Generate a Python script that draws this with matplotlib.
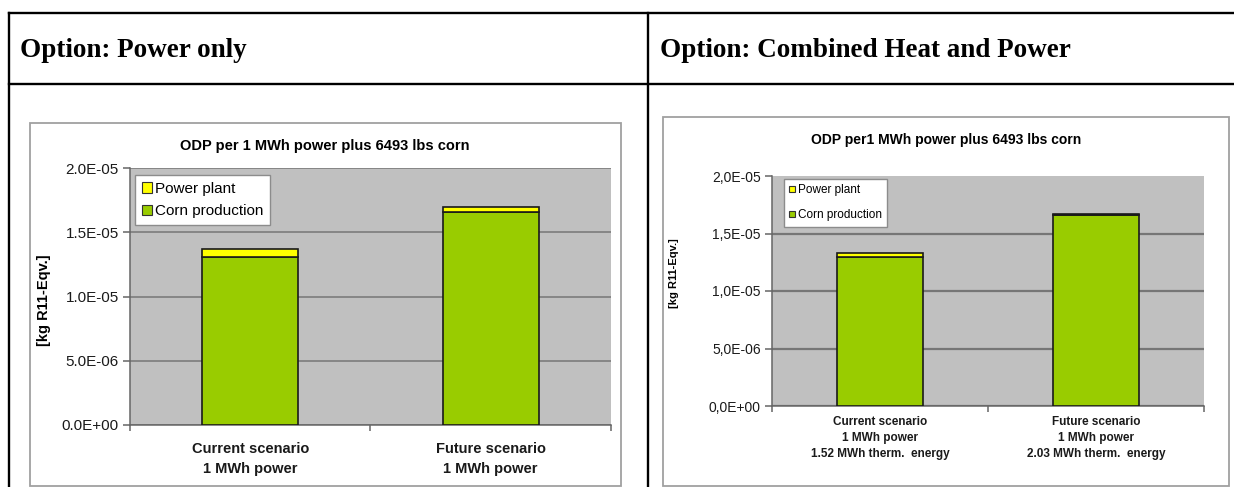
import matplotlib
matplotlib.use("Agg")
import matplotlib.pyplot as plt
from matplotlib.patches import Patch, Rectangle
from matplotlib.lines import Line2D

# ---- data -------------------------------------------------------------
headers = ["Option: Power only", "Option: Combined Heat and Power"]
titles = ["ODP per 1 MWh power plus 6493 lbs corn",
          "ODP per1 MWh power plus 6493 lbs corn"]
y_label = "[kg R11-Eqv.]"
series_names = ["Power plant", "Corn production"]

categories_power = ["Current scenario\n1 MWh power",
                    "Future scenario\n1 MWh power"]
corn_power = [1.31e-5, 1.66e-5]
plant_power = [0.06e-5, 0.04e-5]

categories_chp = ["Current scenario\n1 MWh power\n1.52 MWh therm.  energy",
                  "Future scenario\n1 MWh power\n2.03 MWh therm.  energy"]
corn_chp = [1.30e-5, 1.66e-5]
plant_chp = [0.03e-5, 0.008e-5]

y_ticks = [0.0, 5e-6, 1e-5, 1.5e-5, 2e-5]

# ---- layout helpers (pixel coordinates, origin top-left) ---------------
W, H, DPI = 1234, 487, 100
fig = plt.figure(figsize=(W / DPI, H / DPI), dpi=DPI)
fig.patch.set_facecolor("white")

SANS = "Liberation Sans"
SERIF = "Liberation Serif"
GREEN = "#99cc00"
YELLOW = "#ffff00"
PLOT_BG = "#c0c0c0"


def fx(x):
    return x / W


def fy(y):
    return 1 - y / H


def axes_at(x0, y0, x1, y1):
    return fig.add_axes([fx(x0), fy(y1), (x1 - x0) / W, (y1 - y0) / H])


def fig_line(x0, y0, x1, y1, lw=1.7, color="black"):
    fig.add_artist(Line2D([fx(x0), fx(x1)], [fy(y0), fy(y1)],
                          transform=fig.transFigure, color=color, lw=lw,
                          solid_capstyle="projecting"))


def chart_box(x0, y0, x1, y1):
    fig.add_artist(Rectangle((fx(x0), fy(y1)), (x1 - x0) / W, (y1 - y0) / H,
                             transform=fig.transFigure, facecolor="white",
                             edgecolor="#a0a0a0", lw=1.3, zorder=0))


# ---- table frame --------------------------------------------------------
fig_line(8.5, 12.5, 1234, 12.5)
fig_line(8.5, 84, 1234, 84)
fig_line(8.5, 12.5, 8.5, 487)
fig_line(648, 12.5, 648, 487)

fig.text(fx(20), fy(57), headers[0], family=SERIF, weight="bold",
         fontsize=19.5, ha="left", va="baseline")
fig.text(fx(660), fy(57), headers[1], family=SERIF, weight="bold",
         fontsize=19.5, ha="left", va="baseline")


def draw_chart(ax, cats, corn, plant, fmt, tick_fs, cat_fs, cat_pad,
               cat_spacing, grid_lw, legend_fs, legend_anchor,
               legend_spacing, legend_handle, top_grid=True):
    ax.set_facecolor(PLOT_BG)
    xs = list(range(len(cats)))
    ax.bar(xs, corn, width=0.4, color=GREEN, edgecolor="#1a1a1a",
           lw=1.2, zorder=3)
    ax.bar(xs, plant, bottom=corn, width=0.4, color=YELLOW,
           edgecolor="#1a1a1a", lw=1.2, zorder=3)
    ax.set_xlim(-0.5, len(cats) - 0.5)
    ax.set_ylim(0, y_ticks[-1])
    ax.set_yticks(y_ticks)
    ax.set_yticklabels([fmt(v) for v in y_ticks], family=SANS,
                       fontsize=tick_fs, color="#1a1a1a")
    ax.yaxis.grid(True, color="#767676", lw=grid_lw)
    if not top_grid:
        ax.yaxis.get_gridlines()[-1].set_visible(False)
    ax.set_axisbelow(True)
    for side in ("top", "right"):
        ax.spines[side].set_visible(False)
    for side in ("left", "bottom"):
        ax.spines[side].set_color("#666666")
        ax.spines[side].set_linewidth(1.1)
    ax.tick_params(axis="y", direction="out", length=5, width=1.1,
                   color="#666666", pad=3)
    ax.set_xticks(xs)
    ax.set_xticklabels(cats, family=SANS, weight="bold", fontsize=cat_fs,
                       color="#1a1a1a", linespacing=cat_spacing)
    ax.set_xticks([i - 0.5 for i in range(len(cats) + 1)], minor=True)
    ax.tick_params(axis="x", which="major", length=0, pad=cat_pad)
    ax.tick_params(axis="x", which="minor", direction="out", length=4,
                   width=1.1, color="#666666")

    handles = [Patch(facecolor=YELLOW, edgecolor="#333333", lw=0.8),
               Patch(facecolor=GREEN, edgecolor="#333333", lw=0.8)]
    leg = ax.legend(handles, series_names, loc="upper left",
                    bbox_to_anchor=legend_anchor, frameon=True,
                    fancybox=False, shadow=False, borderaxespad=0,
                    prop={"family": SANS, "size": legend_fs},
                    handlelength=legend_handle, handleheight=legend_handle,
                    handletextpad=0.2, labelspacing=legend_spacing,
                    borderpad=0.45)
    frame = leg.get_frame()
    frame.set_edgecolor("#8c8c8c")
    frame.set_linewidth(1.0)
    frame.set_facecolor("white")
    frame.set_alpha(1.0)


# ---- left chart: power only ---------------------------------------------
chart_box(30, 123, 621, 486)
ax1 = axes_at(130, 168, 611, 425)
draw_chart(ax1, categories_power, corn_power, plant_power,
           lambda v: f"{v:.1E}", tick_fs=11, cat_fs=10.5, cat_pad=12,
           cat_spacing=1.6, grid_lw=1.1, legend_fs=11,
           legend_anchor=((135 - 130) / 481, 1 - (175 - 168) / 257),
           legend_spacing=0.55, legend_handle=0.65)
fig.text(fx(325), fy(146), titles[0], family=SANS, weight="bold",
         fontsize=10.5, ha="center", va="center")
fig.text(fx(44), fy(300), y_label, family=SANS, weight="bold",
         fontsize=10.5, rotation=90, ha="center", va="center")

# ---- right chart: combined heat and power -------------------------------
chart_box(663, 117, 1229, 486)
ax2 = axes_at(772, 176, 1204, 406)
draw_chart(ax2, categories_chp, corn_chp, plant_chp,
           lambda v: f"{v:.1E}".replace(".", ","), tick_fs=10, cat_fs=8.5,
           cat_pad=7, cat_spacing=1.45, grid_lw=1.6, legend_fs=8.5,
           legend_anchor=((784 - 772) / 432, 1 - (179 - 176) / 230),
           legend_spacing=1.1, legend_handle=0.5, top_grid=False)
fig.text(fx(946), fy(140), titles[1], family=SANS, weight="bold",
         fontsize=10, ha="center", va="center")
fig.text(fx(674), fy(273), y_label, family=SANS, weight="bold",
         fontsize=8, rotation=90, ha="center", va="center")

fig.savefig("out.png", dpi=DPI, facecolor="white")
